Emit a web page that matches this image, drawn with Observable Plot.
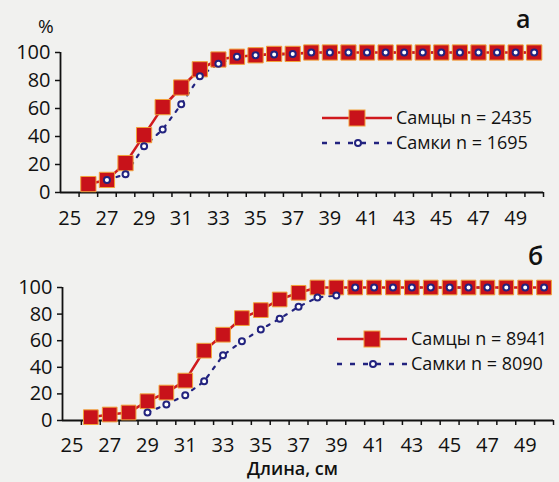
<!DOCTYPE html>
<html>
<head>
<meta charset="utf-8">
<script src="https://cdn.jsdelivr.net/npm/d3@7"></script>
<script src="https://cdn.jsdelivr.net/npm/@observablehq/plot@0.6"></script>
<style>
  html, body { margin: 0; padding: 0; background: #f1f1ef; }
  #wrap { position: relative; width: 559px; height: 482px; overflow: hidden; font-family: "Open Sans", sans-serif; color: #111; }
  #wrap > div.plot { position: absolute; left: 0; }
  .lbl { position: absolute; white-space: nowrap; line-height: 1; }
  .leg { position: absolute; }
</style>
</head>
<body>
<div id="wrap">
  <div class="plot" id="top" style="top:0"></div>
  <div class="plot" id="bot" style="top:240px"></div>
  <div class="lbl" style="left:38px; top:17px; font-size:19px; font-weight:500;">%</div>
  <div class="lbl" style="left:516px; top:6px; font-size:25px; font-weight:600;">а</div>
  <div class="lbl" style="left:528px; top:243px; font-size:25px; font-weight:600;">б</div>
  <div class="lbl" style="left:247px; top:459px; font-size:18px; font-weight:600;">Длина, см</div>
  <div class="leg" id="legTop" style="left:318px; top:104px;"></div>
  <div class="leg" id="legBot" style="left:333px; top:325px;"></div>
</div>
<script>
// ---- data ----
const lengths = [26,27,28,29,30,31,32,33,34,35,36,37,38,39,40,41,42,43,44,45,46,47,48,49,50];

// panel а
const malesA   = [6, 9, 21, 41, 61, 75, 88, 95, 97, 98, 99, 99, 100,100,100,100,100,100,100,100,100,100,100,100,100];
const femalesA = [null, 9, 13, 33, 45, 63, 83, 92, 97, 98, 98.5, 99, 100,100,100,100,100,100,100,100,100,100,100,100,100];
const legendA  = ["Самцы n = 2435", "Самки n = 1695"];

// panel б
const malesB   = [2.5, 4.5, 6, 14.5, 21, 30, 52.5, 64.5, 77, 83, 91, 96, 100,100,100,100,100,100,100,100,100,100,100,100,100];
const femalesB = [null, null, null, 6, 12, 19, 29.5, 49, 59.5, 68.5, 76.5, 85.5, 92.5, 94, 100,100,100,100,100,100,100,100,100,100,100];
const legendB  = ["Самцы n = 8941", "Самки n = 8090"];

const xLabels = [25,27,29,31,33,35,37,39,41,43,45,47,49];
const yTicks  = [0,20,40,60,80,100];

// ---- styles ----
const RED = "#c8121a", RED_LINE = "#d0191d", EDGE = "#f2a23a", NAVY = "#22237f";
const minorTicks = d3.range(25.5, 50.6, 1);

function rows(ys) { return lengths.map((len, i) => ({len, v: ys[i]})).filter(d => d.v != null); }

function chart({males, females, width, height, mt, mb, ml, mr, sq, pad}) {
  const M = rows(males), F = rows(females);
  return Plot.plot({
    width, height, marginTop: mt, marginBottom: mb, marginLeft: ml, marginRight: mr,
    x: {domain: [24.5, 50.5]},
    y: {domain: [0, 100]},
    style: {background: "transparent", fontFamily: "Open Sans, sans-serif", fontWeight: 500, color: "#111", overflow: "visible"},
    marks: [
      Plot.ruleY([0], {stroke: "#111", strokeWidth: 1.8}),
      Plot.ruleX([24.5], {stroke: "#111", strokeWidth: 1.8}),
      Plot.axisY({ticks: yTicks, tickSize: 5, tickPadding: 5, fontSize: 20, label: null, strokeWidth: 1.5}),
      Plot.axisX({ticks: minorTicks, tickSize: 5, tickFormat: () => "", label: null, strokeWidth: 1.5}),
      Plot.axisX({ticks: xLabels, tickSize: 0, tickPadding: pad, fontSize: 20, label: null}),
      Plot.line(F, {x: "len", y: "v", stroke: NAVY, strokeWidth: 2.2, strokeDasharray: "3,7"}),
      Plot.line(M, {x: "len", y: "v", stroke: RED_LINE, strokeWidth: 2.6}),
      Plot.dot(M, {x: "len", y: "v", symbol: "square", r: sq, fill: RED, stroke: EDGE, strokeWidth: 1}),
      Plot.dot(F, {x: "len", y: "v", r: 3, fill: "white", stroke: NAVY, strokeWidth: 2})
    ]
  });
}

document.getElementById("top").append(chart({males: malesA, females: femalesA, width: 559, height: 240, mt: 52, mb: 48, ml: 60, mr: 16, sq: 8.6, pad: 18}));
document.getElementById("bot").append(chart({males: malesB, females: femalesB, width: 559, height: 242, mt: 47, mb: 62, ml: 62, mr: 6, sq: 8.3, pad: 17}));

function legend(el, labels) {
  const w = 240, h = 44;
  const svg = d3.select(el).append("svg").attr("width", w).attr("height", h).style("overflow", "visible");
  // males
  svg.append("line").attr("x1", 4).attr("x2", 74).attr("y1", 14).attr("y2", 14).attr("stroke", RED_LINE).attr("stroke-width", 2.6);
  svg.append("rect").attr("x", 31).attr("y", 6).attr("width", 16).attr("height", 16).attr("fill", RED).attr("stroke", EDGE).attr("stroke-width", 1);
  svg.append("text").attr("x", 78).attr("y", 14).attr("dy", "0.35em").attr("font-size", 18).attr("font-weight", 500).attr("fill", "#111").text(labels[0]);
  // females
  svg.append("line").attr("x1", 4).attr("x2", 74).attr("y1", 39).attr("y2", 39).attr("stroke", NAVY).attr("stroke-width", 2.4).attr("stroke-dasharray", "5,8");
  svg.append("circle").attr("cx", 40).attr("cy", 39).attr("r", 3).attr("fill", "white").attr("stroke", NAVY).attr("stroke-width", 2);
  svg.append("text").attr("x", 78).attr("y", 39).attr("dy", "0.35em").attr("font-size", 18).attr("font-weight", 500).attr("fill", "#111").text(labels[1]);
}
legend(document.getElementById("legTop"), legendA);
legend(document.getElementById("legBot"), legendB);
</script>
</body>
</html>
